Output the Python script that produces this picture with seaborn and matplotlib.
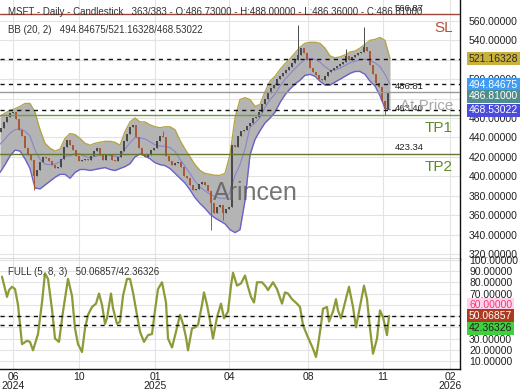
import matplotlib
matplotlib.use("Agg")
import matplotlib.pyplot as plt
import matplotlib.transforms as mtransforms
from matplotlib.ticker import FormatStrFormatter, FuncFormatter
import numpy as np
import pandas as pd
import seaborn as sns

# ---------------- data ----------------
bar_idx = list(range(1, 389, 3))
closes = [
    450, 456, 461, 465, 466, 459, 448, 441, 429, 422,
    417, 400, 406, 415, 420, 419, 416, 412, 409, 410,
    418, 430, 437, 432, 427, 421, 416, 417, 418, 417,
    421, 426, 429, 422, 417, 422, 423, 417, 416, 420,
    426, 436, 444, 451, 453, 440, 429, 423, 420, 422,
    427, 429, 436, 442, 440, 421, 416, 412, 414, 415,
    410, 400, 398, 391, 386, 387, 392, 394, 391, 385,
    372, 362, 368, 370, 362, 366, 368, 432, 430, 442,
    447, 448, 452, 455, 460, 461, 466, 474, 480, 486,
    491, 494, 500, 503, 506, 509, 513, 517, 520, 525,
    532, 527, 520, 512, 507, 504, 500, 499, 503, 507,
    510, 512, 514, 516, 518, 524, 520, 523, 525, 527,
    528, 533, 529, 515, 505, 496, 492, 478, 469, 486.81,
]
first_open = 446
wick_high = {163: 447, 298: 556, 346: 531, 364: 554}
wick_low = {34: 386, 211: 345, 223: 355, 385: 463.4}

bb_idx = list(range(0, 391, 5))
bb_upper = [
    462, 465, 468, 469.5, 472, 475, 475, 466, 448, 434,
    429, 426, 428, 439, 444, 443, 439, 434, 432, 434,
    435, 436, 436, 435, 432, 446, 456, 460, 456, 456,
    453, 451, 450, 451, 451, 448, 437, 428, 420, 412,
    406, 403, 402, 401, 401, 403, 422, 460, 479, 481,
    479, 472, 474, 487, 498, 503, 510, 516, 521, 527,
    533, 537, 538, 538, 537, 532, 524, 522, 523, 525,
    528, 529, 532, 536, 540, 541, 543, 540, 521.16,
]
bb_lower = [
    404, 412, 421, 427, 426, 418, 408, 388, 387, 391,
    395, 399, 402, 402, 398, 404, 407, 407, 406, 407,
    408, 409, 407, 406, 408, 410, 413, 420, 423, 421,
    418, 414, 412, 411, 408, 403, 398, 393, 386, 378,
    372, 367, 361, 357, 354, 351, 345, 342, 345, 375,
    422, 438, 447, 455, 460, 466, 476, 484, 490, 495,
    499, 504, 505, 503, 498, 494, 494, 497, 500, 503,
    506, 508, 508, 505, 498, 493, 483, 470, 468.53,
]
bb_mid = [
    433, 438.5, 444.5, 448, 449, 446.5, 441.5, 427, 417.5, 412.5,
    412, 412.5, 415, 420.5, 421, 423.5, 423, 420.5, 419, 420.5,
    421.5, 422.5, 421.5, 420.5, 420, 428, 434.5, 440, 439.5, 438.5,
    435.5, 432.5, 431, 431, 429.5, 425.5, 417.5, 410.5, 403, 395,
    389, 385, 381.5, 379, 377.5, 377, 383.5, 401, 412, 428,
    450.5, 455, 460.5, 471, 479, 484.5, 493, 500, 505.5, 511,
    516, 520.5, 521.5, 520.5, 517.5, 513, 509, 509.5, 511.5, 514,
    517, 518.5, 520, 520.5, 519, 517, 513, 505, 494.85,
]

sto_idx = [2, 7, 9, 12, 15, 18, 22, 27, 30, 33, 38, 42, 45, 48, 52, 55, 59, 63, 68, 72,
           75, 78, 82, 85, 88, 92, 96, 99, 102, 105, 107, 111, 113, 117, 120, 123, 127, 130, 133, 137,
           140, 144, 148, 152, 155, 158, 162, 166, 168, 172, 176, 180, 183, 186, 188, 192, 195, 198, 202, 204,
           207, 210, 213, 217, 221, 224, 228, 231, 233, 237, 241, 245, 248, 251, 254, 257, 262, 266, 268, 273,
           277, 282, 285, 288, 292, 297, 300, 303, 307, 310, 313, 316, 318, 321, 323, 327, 329, 333, 336, 338,
           341, 345, 349, 353, 356, 359, 364, 367, 370, 373, 377, 380, 383, 387, 389]
sto_k = [85, 67, 73, 76, 74, 60, 25, 28, 27, 19.5, 34, 62, 88, 83, 56, 30, 27, 54, 83, 68,
         39, 25, 18, 39, 51, 58, 61, 70, 60, 43, 48, 70, 57, 43, 45, 68, 83, 83, 71, 51,
         36, 27, 33, 34, 55, 74, 80, 62, 30, 22, 36, 51, 43, 31, 19.5, 39, 40, 42, 60, 71,
         60, 46, 30, 49, 61, 48, 54, 77, 88.5, 77, 79, 86, 76, 67, 62, 80, 80, 76, 73, 80,
         74, 61, 71, 70, 65, 61, 58, 42, 33, 27, 21, 13.6, 24, 42, 56.5, 58, 45, 54, 65, 55,
         48, 62, 76, 58, 40, 54, 77, 65, 39, 16.5, 30, 55, 49, 33, 50.07]

price_ticks = [320, 340, 360, 380, 400, 420, 440, 460, 480, 500, 520, 540, 560]
osc_ticks = [10, 20, 30, 40, 50, 60, 70, 80, 90, 100]
osc_hidden = [40, 50]
x_tick_pos = [13, 79, 155, 229, 308, 383, 450]
x_tick_labels = ["06\n2024", "10", "01\n2025", "04", "08", "11", "02\n2026"]

sl_level = 566.87
last_price = 486.81
tp1_level = 463.40
tp2_level = 423.34
bb_now = {"upper": 521.16328, "mid": 494.84675, "lower": 468.53022}
sto_now = [50.06857, 42.36326]
osc_mark = 60.0

title = "MSFT - Daily - Candlestick   363/383 - O:486.73000 - H:488.00000 - L:486.36000 - C:486.81000"
bb_title = "BB (20, 2)   494.84675/521.16328/468.53022"
sto_title = "FULL (5, 8, 3)   50.06857/42.36326"
watermark = "Arincen"

# ---------------- style ----------------
sns.set_theme(style="white")
plt.rcParams['font.family'] = ['Liberation Sans', 'DejaVu Sans']

W, H = 520, 390
fig = plt.figure(figsize=(W / 100, H / 100), dpi=100)
fig.patch.set_facecolor("white")
ax = fig.add_axes([0, 131 / H, 460 / W, 259 / H])
ax2 = fig.add_axes([0, 21 / H, 460 / W, 110 / H])

GRID = "#e3e3e3"
for a in (ax, ax2):
    a.set_facecolor("white")
    a.set_xlim(0, 460)
    a.set_xticks(x_tick_pos)
    a.grid(True, color=GRID, lw=0.8)
    a.set_axisbelow(True)
    a.spines['left'].set_visible(False)
    a.spines['top'].set_visible(False)
    a.spines['right'].set_color("#111111")
    a.spines['right'].set_linewidth(1.0)
    a.yaxis.tick_right()
    a.tick_params(axis='y', length=0, pad=6.5, labelsize=7.5, labelcolor="#222222")

ax.spines['bottom'].set_color("#444444")
ax.spines['bottom'].set_linewidth(1.0)
ax2.spines['bottom'].set_color("#111111")
ax2.spines['bottom'].set_linewidth(1.0)

# ---------------- main panel ----------------
ax.set_ylim(314.8, 581.6)
ax.set_yticks(price_ticks)
ax.yaxis.set_major_formatter(FormatStrFormatter('%.5f'))
ax.tick_params(axis='x', length=0, labelbottom=False)

ax.fill_between(bb_idx, bb_lower, bb_upper, color="#b4b4b4", lw=0, zorder=1)
sns.lineplot(x=bb_idx, y=bb_upper, ax=ax, color="#b3a54a", lw=1.0, zorder=2)
sns.lineplot(x=bb_idx, y=bb_lower, ax=ax, color="#6a62cc", lw=1.0, zorder=2)
sns.lineplot(x=bb_idx, y=bb_mid, ax=ax, color="#8a84d0", lw=0.8, zorder=2)

df = pd.DataFrame({"x": bar_idx, "close": closes})
df["open"] = [first_open] + closes[:-1]
df["high"] = df[["open", "close"]].max(axis=1)
df["low"] = df[["open", "close"]].min(axis=1)
for k, v in wick_high.items():
    df.loc[df.x == k, "high"] = v
for k, v in wick_low.items():
    df.loc[df.x == k, "low"] = v
up = df.close >= df.open
cols = np.where(up, "#4a4a4a", "#a9583a")
ax.vlines(df.x, df.low, df.high, colors=cols, lw=0.7, zorder=3)
body_lo = df[["open", "close"]].min(axis=1)
body_h = np.maximum((df.close - df.open).abs(), 0.8)
ax.bar(df.x, body_h, bottom=body_lo, width=1.6, color=cols, lw=0, zorder=3)

# levels
ax.axhline(sl_level, color="#a2453a", lw=1.0, zorder=4)
for v in bb_now.values():
    ax.axhline(v, color="#111111", lw=1.0, ls=(0, (3, 3)), zorder=4)
ax.axhline(last_price, color="#9a9a9a", lw=1.0, zorder=4)
ax.axhline(tp1_level, color="#6e9c3e", lw=1.0, zorder=4)
ax.axhline(tp2_level, color="#65762f", lw=1.0, zorder=4)

for v in (sl_level, last_price, tp1_level, tp2_level):
    ax.text(395, v + 1.5, f"{v:.2f}", fontsize=6.8, color="#222222",
            ha='left', va='bottom', zorder=6)

ax.text(453, sl_level - 14, "SL", fontsize=11, color="#b0533c", ha='right', va='center', zorder=6)
ax.text(453, last_price - 14, "At Price", fontsize=11, color="#a8a8a8", ha='right', va='center', zorder=6)
ax.text(453, tp1_level - 14, "TP1", fontsize=11, color="#5b8c2a", ha='right', va='center', zorder=6)
ax.text(453, tp2_level - 14, "TP2", fontsize=11, color="#5b8c2a", ha='right', va='center', zorder=6)

ax.text(213, 382.8, watermark, fontsize=18, color="#5e5e5e", ha='left', va='center',
        alpha=0.85, zorder=7)

ax.text(8 / 460, 1 - 12 / 259, title, transform=ax.transAxes, fontsize=7, color="#333333",
        ha='left', va='center', zorder=8)
ax.text(8 / 460, 1 - 30 / 259, bb_title, transform=ax.transAxes, fontsize=7, color="#333333",
        ha='left', va='center', zorder=8)

trans = mtransforms.blended_transform_factory(ax.transAxes, ax.transData)
xlab = 469 / 460


def tag(a, tr, yv, txt, fc, tc):
    a.text(xlab, yv, txt, transform=tr, fontsize=7.5, color=tc, ha='left', va='center',
           zorder=10, clip_on=False,
           bbox=dict(boxstyle="square,pad=0.15", fc=fc, ec='none'))


tag(ax, trans, bb_now["upper"], f"{bb_now['upper']:.5f}", "#c9b23c", "#2a2a2a")
tag(ax, trans, bb_now["mid"] - 0.5, f"{bb_now['mid']:.5f}", "#3f9cf5", "white")
tag(ax, trans, last_price - 4.5, f"{last_price:.5f}", "#4f8c8e", "white")
tag(ax, trans, bb_now["lower"] - 0.5, f"{bb_now['lower']:.5f}", "#4b4bde", "white")

ax.set_xlabel("")
ax.set_ylabel("")

# ---------------- oscillator panel ----------------
ax2.set_ylim(2.9, 100.7)
ax2.set_yticks(osc_ticks)
ax2.yaxis.set_major_formatter(FuncFormatter(lambda v, p: "" if round(v) in osc_hidden else f"{v:.5f}"))
sns.lineplot(x=sto_idx, y=sto_k, ax=ax2, color="#8e9a38", lw=1.6, zorder=3)
for v in sto_now:
    ax2.axhline(v, color="#111111", lw=1.0, ls=(0, (3, 3)), zorder=4)
ax2.text(8 / 460, 1 - 13 / 110, sto_title, transform=ax2.transAxes, fontsize=7, color="#333333",
         ha='left', va='center', zorder=8)

trans2 = mtransforms.blended_transform_factory(ax2.transAxes, ax2.transData)
tag(ax2, trans2, osc_mark, f"{osc_mark:.5f}", "#ffd3ec", "#f03a78")
tag(ax2, trans2, sto_now[0], f"{sto_now[0]:.5f}", "#ad3a1f", "white")
tag(ax2, trans2, sto_now[1] - 3.2, f"{sto_now[1]:.5f}", "#3fcf3f", "#1f1f1f")

ax2.set_xticks(x_tick_pos)
ax2.set_xticklabels(x_tick_labels)
ax2.tick_params(axis='x', length=0, pad=2, labelsize=7.5, labelcolor="#222222")
for lbl in ax2.get_xticklabels():
    lbl.set_linespacing(0.95)
ax2.set_xlabel("")
ax2.set_ylabel("")

fig.savefig("out.png", dpi=100)
